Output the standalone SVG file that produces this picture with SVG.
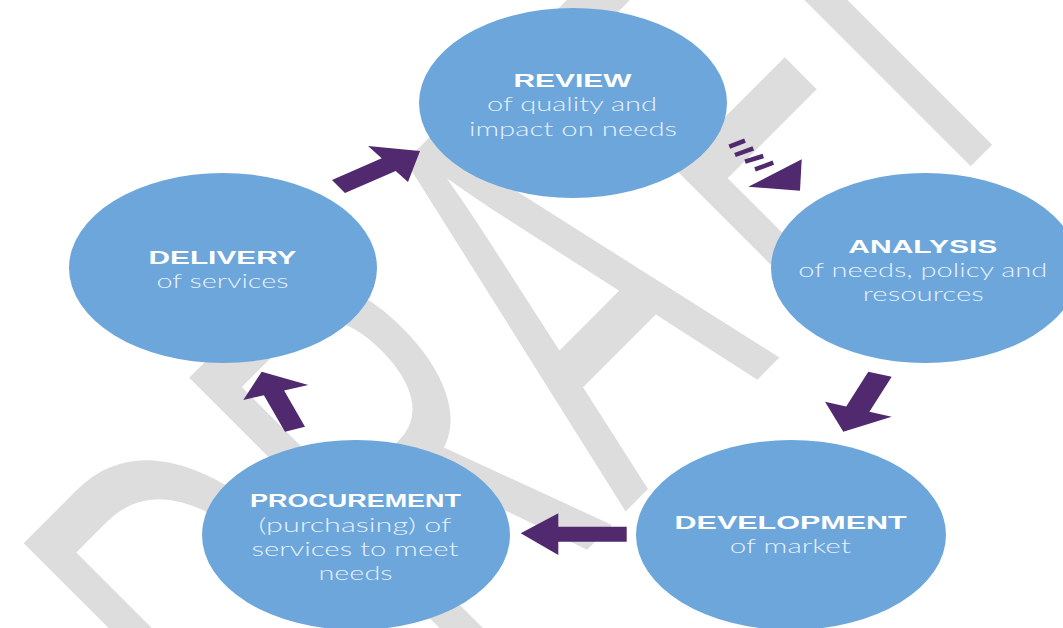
<svg xmlns="http://www.w3.org/2000/svg" width="1063" height="628" viewBox="0 0 1063 628">
<style>
.node{fill:#6ca6da}
.t{font-family:"Liberation Sans",Arial,sans-serif;font-weight:bold;font-size:19px;fill:#ffffff;text-anchor:middle}
.s{font-family:Lato,"Open Sans","Liberation Sans",sans-serif;font-weight:300;font-size:19px;fill:#e6f0fa;text-anchor:middle}
.arr{fill:#50296f}
.dash{stroke:#50296f;stroke-width:4.5;stroke-linecap:butt}
.wm{font-family:"Liberation Sans",Arial,sans-serif;font-size:586px;fill:#dddddd}
</style>
<rect width="1063" height="628" fill="#ffffff"/>
<text class="wm" transform="rotate(-45) scale(0.56,1)" x="-704 -286 143 591 864" y="804">DRAFT</text>
<g id="review">
<ellipse class="node" cx="573" cy="103" rx="154" ry="95"/>
<text class="t" x="572.5" y="87" textLength="118" lengthAdjust="spacingAndGlyphs">REVIEW</text>
<text class="s" x="572" y="111" textLength="170" lengthAdjust="spacingAndGlyphs">of quality and</text>
<text class="s" x="573" y="135.5" textLength="208" lengthAdjust="spacingAndGlyphs">impact on needs</text>
</g>
<g id="analysis">
<ellipse class="node" cx="925" cy="268" rx="154" ry="95"/>
<text class="t" x="922.8" y="253" textLength="149" lengthAdjust="spacingAndGlyphs">ANALYSIS</text>
<text class="s" x="922.8" y="277" textLength="249" lengthAdjust="spacingAndGlyphs">of needs, policy and</text>
<text class="s" x="923.3" y="301" textLength="121" lengthAdjust="spacingAndGlyphs">resources</text>
</g>
<g id="delivery">
<ellipse class="node" cx="223" cy="268" rx="154" ry="95"/>
<text class="t" x="222.5" y="264" textLength="148" lengthAdjust="spacingAndGlyphs">DELIVERY</text>
<text class="s" x="222.5" y="288" textLength="132" lengthAdjust="spacingAndGlyphs">of services</text>
</g>
<g id="procurement">
<ellipse class="node" cx="356" cy="535" rx="154" ry="95"/>
<text class="t" x="355.5" y="507" textLength="211" lengthAdjust="spacingAndGlyphs">PROCUREMENT</text>
<text class="s" x="355" y="532" textLength="193" lengthAdjust="spacingAndGlyphs">(purchasing) of</text>
<text class="s" x="355" y="556" textLength="207" lengthAdjust="spacingAndGlyphs">services to meet</text>
<text class="s" x="355.5" y="579.5" textLength="74" lengthAdjust="spacingAndGlyphs">needs</text>
</g>
<g id="development">
<ellipse class="node" cx="791" cy="535" rx="155" ry="95"/>
<text class="t" x="790.6" y="529" textLength="232" lengthAdjust="spacingAndGlyphs">DEVELOPMENT</text>
<text class="s" x="790.3" y="553" textLength="121" lengthAdjust="spacingAndGlyphs">of market</text>
</g>
<g id="connectors">
<polygon class="arr" points="332,180 381.7,158.3 368,146 420,151 408,182 395.7,170.9 345,193"/>
<g id="review-analysis">
<line class="dash" x1="729.3" y1="146.7" x2="745" y2="140.7"/>
<line class="dash" x1="735" y1="155" x2="753.3" y2="148.3"/>
<line class="dash" x1="745" y1="161.7" x2="763.3" y2="156"/>
<line class="dash" x1="755" y1="169.3" x2="773.3" y2="162.7"/>
<polygon class="arr" points="801.7,159.3 800,190.7 748.3,186.7"/>
</g>
<polygon class="arr" points="868.3,371.7 846.2,406.4 825,401.7 843.3,431.7 891.7,416.7 869.4,411.7 891.7,376.7"/>
<polygon class="arr" points="626.7,526.7 558.3,526.7 558.3,513.3 520.7,533.3 558.3,555 558.3,541.7 626.7,541.7"/>
<polygon class="arr" points="285,431.7 263.9,395.2 243.3,400 261.7,371.7 308.3,385 284.1,390.6 305,426.7"/>
</g>
</svg>
